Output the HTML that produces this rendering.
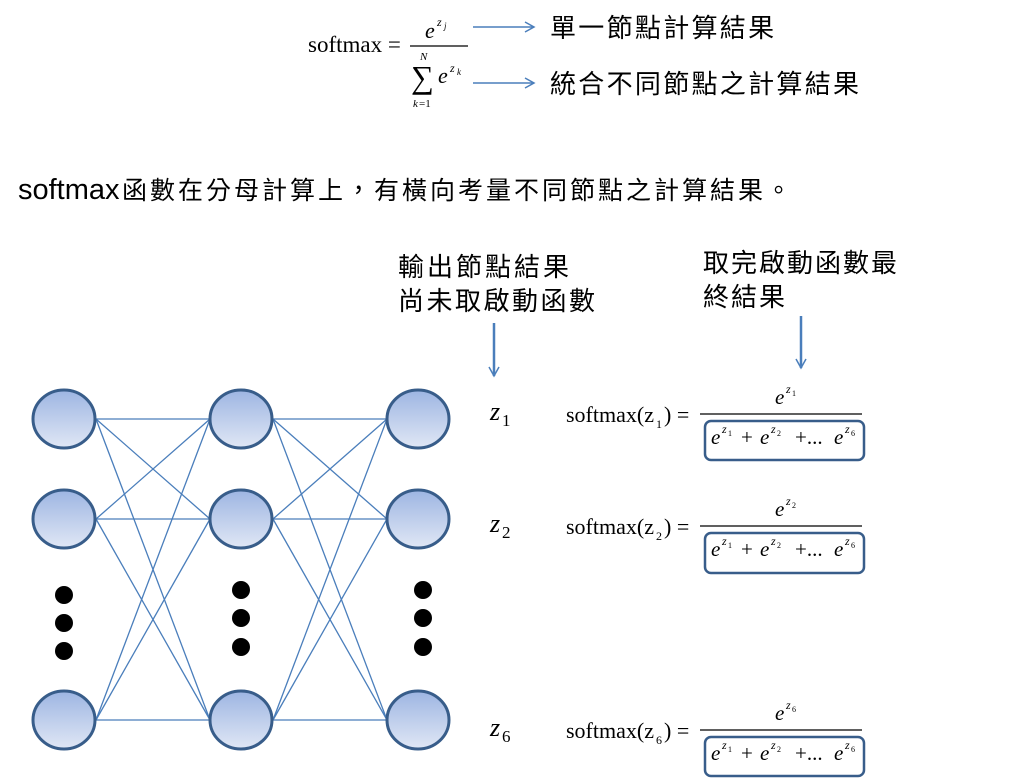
<!DOCTYPE html>
<html><head><meta charset="utf-8"><style>
html,body{margin:0;padding:0;background:#fff;}
svg{display:block;}
.cj{font-family:"Liberation Sans","Noto Sans CJK TC",sans-serif;fill:#000;}
.m{font-family:"Liberation Serif",serif;fill:#000;}
.i{font-family:"Liberation Serif",serif;font-style:italic;fill:#000;}
</style></head><body>
<svg width="1024" height="778" viewBox="0 0 1024 778" xmlns="http://www.w3.org/2000/svg">
<defs>
<linearGradient id="g" x1="0" y1="0" x2="0" y2="1">
<stop offset="0" stop-color="#9db5e2"/><stop offset="1" stop-color="#e0e7f5"/>
</linearGradient>
<marker id="ah" markerWidth="12" markerHeight="12" refX="10" refY="6" orient="auto" markerUnits="userSpaceOnUse">
<path d="M1,1 L10,6 L1,11" fill="none" stroke="#4a7ebb" stroke-width="1.5"/>
</marker>
</defs>
<!-- top formula -->
<text class="m" x="308" y="52" font-size="23">softmax =</text>
<line x1="410" y1="46" x2="468" y2="46" stroke="#000" stroke-width="1.2"/>
<text class="i" x="425" y="38" font-size="22">e</text>
<text class="i" x="437" y="26" font-size="12">z</text><text class="i" x="444" y="29" font-size="9">j</text>
<text class="i" x="420" y="60" font-size="11">N</text>
<text class="m" x="411" y="88" font-size="32">∑</text>
<text class="i" x="438" y="83" font-size="22">e</text>
<text class="i" x="450" y="72" font-size="12">z</text><text class="i" x="457" y="75" font-size="9">k</text>
<text class="i" x="413" y="107" font-size="11">k</text><text class="m" x="419" y="107" font-size="11">=1</text>
<line x1="473" y1="27" x2="534" y2="27" stroke="#4a7ebb" stroke-width="1.5" marker-end="url(#ah)"/>
<line x1="473" y1="83" x2="534" y2="83" stroke="#4a7ebb" stroke-width="1.5" marker-end="url(#ah)"/>
<text class="cj" x="550" y="37" font-size="26" letter-spacing="2.3">單一節點計算結果</text>
<text class="cj" x="550" y="93" font-size="26" letter-spacing="2.3">統合不同節點之計算結果</text>
<text class="cj" x="18" y="199" font-size="29">softmax</text>
<text class="cj" x="122" y="199" font-size="25" letter-spacing="3">函數在分母計算上，有橫向考量不同節點之計算結果。</text>
<text class="cj" x="398" y="276" font-size="26" letter-spacing="3">輸出節點結果</text>
<text class="cj" x="398" y="310" font-size="26" letter-spacing="2.5">尚未取啟動函數</text>
<text class="cj" x="703" y="272" font-size="26" letter-spacing="2">取完啟動函數最</text>
<text class="cj" x="703" y="306" font-size="26" letter-spacing="2">終結果</text>
<line x1="494" y1="323" x2="494" y2="376" stroke="#4a7ebb" stroke-width="2.5" marker-end="url(#ah)"/>
<line x1="801" y1="316" x2="801" y2="368" stroke="#4a7ebb" stroke-width="2.5" marker-end="url(#ah)"/>
<!-- connections -->
<g stroke="#4a7ebb" stroke-width="1.3">
<line x1="96" y1="419" x2="210" y2="419"/><line x1="96" y1="419" x2="210" y2="519"/><line x1="96" y1="419" x2="210" y2="720"/>
<line x1="96" y1="519" x2="210" y2="419"/><line x1="96" y1="519" x2="210" y2="519"/><line x1="96" y1="519" x2="210" y2="720"/>
<line x1="96" y1="720" x2="210" y2="419"/><line x1="96" y1="720" x2="210" y2="519"/><line x1="96" y1="720" x2="210" y2="720"/>
<line x1="273" y1="419" x2="387" y2="419"/><line x1="273" y1="419" x2="387" y2="519"/><line x1="273" y1="419" x2="387" y2="720"/>
<line x1="273" y1="519" x2="387" y2="419"/><line x1="273" y1="519" x2="387" y2="519"/><line x1="273" y1="519" x2="387" y2="720"/>
<line x1="273" y1="720" x2="387" y2="419"/><line x1="273" y1="720" x2="387" y2="519"/><line x1="273" y1="720" x2="387" y2="720"/>
</g>
<g fill="url(#g)" stroke="#385d8a" stroke-width="3">
<ellipse cx="64" cy="419" rx="31" ry="29"/><ellipse cx="64" cy="519" rx="31" ry="29"/><ellipse cx="64" cy="720" rx="31" ry="29"/>
<ellipse cx="241" cy="419" rx="31" ry="29"/><ellipse cx="241" cy="519" rx="31" ry="29"/><ellipse cx="241" cy="720" rx="31" ry="29"/>
<ellipse cx="418" cy="419" rx="31" ry="29"/><ellipse cx="418" cy="519" rx="31" ry="29"/><ellipse cx="418" cy="720" rx="31" ry="29"/>
</g>
<g fill="#000">
<circle cx="64" cy="595" r="9"/><circle cx="64" cy="623" r="9"/><circle cx="64" cy="651" r="9"/>
<circle cx="241" cy="590" r="9"/><circle cx="241" cy="618" r="9"/><circle cx="241" cy="647" r="9"/>
<circle cx="423" cy="590" r="9"/><circle cx="423" cy="618" r="9"/><circle cx="423" cy="647" r="9"/>
</g>
<!-- rows -->
<g>
<text class="i" x="490" y="420" font-size="26">z</text><text class="m" x="502" y="426" font-size="17">1</text>
<text class="m" x="566" y="422" font-size="22">softmax(z</text><text class="m" x="656" y="428" font-size="12">1</text><text class="m" x="664" y="422" font-size="22">) =</text>
<line x1="700" y1="414" x2="862" y2="414" stroke="#000" stroke-width="1.2"/>
<text class="i" x="775" y="404" font-size="21">e</text><text class="i" x="786" y="393" font-size="12">z</text><text class="m" x="792" y="396" font-size="8">1</text>
<rect x="705" y="421" width="159" height="39" rx="6" fill="none" stroke="#385d8a" stroke-width="2.5"/>
<text class="i" x="711" y="444" font-size="21">e</text><text class="i" x="722" y="433" font-size="12">z</text><text class="m" x="728" y="436" font-size="8">1</text>
<text class="m" x="741" y="444" font-size="21">+</text>
<text class="i" x="760" y="444" font-size="21">e</text><text class="i" x="771" y="433" font-size="12">z</text><text class="m" x="777" y="436" font-size="8">2</text>
<text class="m" x="795" y="444" font-size="21">+...</text>
<text class="i" x="834" y="444" font-size="21">e</text><text class="i" x="845" y="433" font-size="12">z</text><text class="m" x="851" y="436" font-size="8">6</text>
</g>
<g transform="translate(0,112)">
<text class="i" x="490" y="420" font-size="26">z</text><text class="m" x="502" y="426" font-size="17">2</text>
<text class="m" x="566" y="422" font-size="22">softmax(z</text><text class="m" x="656" y="428" font-size="12">2</text><text class="m" x="664" y="422" font-size="22">) =</text>
<line x1="700" y1="414" x2="862" y2="414" stroke="#000" stroke-width="1.2"/>
<text class="i" x="775" y="404" font-size="21">e</text><text class="i" x="786" y="393" font-size="12">z</text><text class="m" x="792" y="396" font-size="8">2</text>
<rect x="705" y="421" width="159" height="40" rx="6" fill="none" stroke="#385d8a" stroke-width="2.5"/>
<text class="i" x="711" y="444" font-size="21">e</text><text class="i" x="722" y="433" font-size="12">z</text><text class="m" x="728" y="436" font-size="8">1</text>
<text class="m" x="741" y="444" font-size="21">+</text>
<text class="i" x="760" y="444" font-size="21">e</text><text class="i" x="771" y="433" font-size="12">z</text><text class="m" x="777" y="436" font-size="8">2</text>
<text class="m" x="795" y="444" font-size="21">+...</text>
<text class="i" x="834" y="444" font-size="21">e</text><text class="i" x="845" y="433" font-size="12">z</text><text class="m" x="851" y="436" font-size="8">6</text>
</g>
<g transform="translate(0,316)">
<text class="i" x="490" y="420" font-size="26">z</text><text class="m" x="502" y="426" font-size="17">6</text>
<text class="m" x="566" y="422" font-size="22">softmax(z</text><text class="m" x="656" y="428" font-size="12">6</text><text class="m" x="664" y="422" font-size="22">) =</text>
<line x1="700" y1="414" x2="862" y2="414" stroke="#000" stroke-width="1.2"/>
<text class="i" x="775" y="404" font-size="21">e</text><text class="i" x="786" y="393" font-size="12">z</text><text class="m" x="792" y="396" font-size="8">6</text>
<rect x="705" y="421" width="159" height="39" rx="6" fill="none" stroke="#385d8a" stroke-width="2.5"/>
<text class="i" x="711" y="444" font-size="21">e</text><text class="i" x="722" y="433" font-size="12">z</text><text class="m" x="728" y="436" font-size="8">1</text>
<text class="m" x="741" y="444" font-size="21">+</text>
<text class="i" x="760" y="444" font-size="21">e</text><text class="i" x="771" y="433" font-size="12">z</text><text class="m" x="777" y="436" font-size="8">2</text>
<text class="m" x="795" y="444" font-size="21">+...</text>
<text class="i" x="834" y="444" font-size="21">e</text><text class="i" x="845" y="433" font-size="12">z</text><text class="m" x="851" y="436" font-size="8">6</text>
</g>
</svg>
</body></html>
